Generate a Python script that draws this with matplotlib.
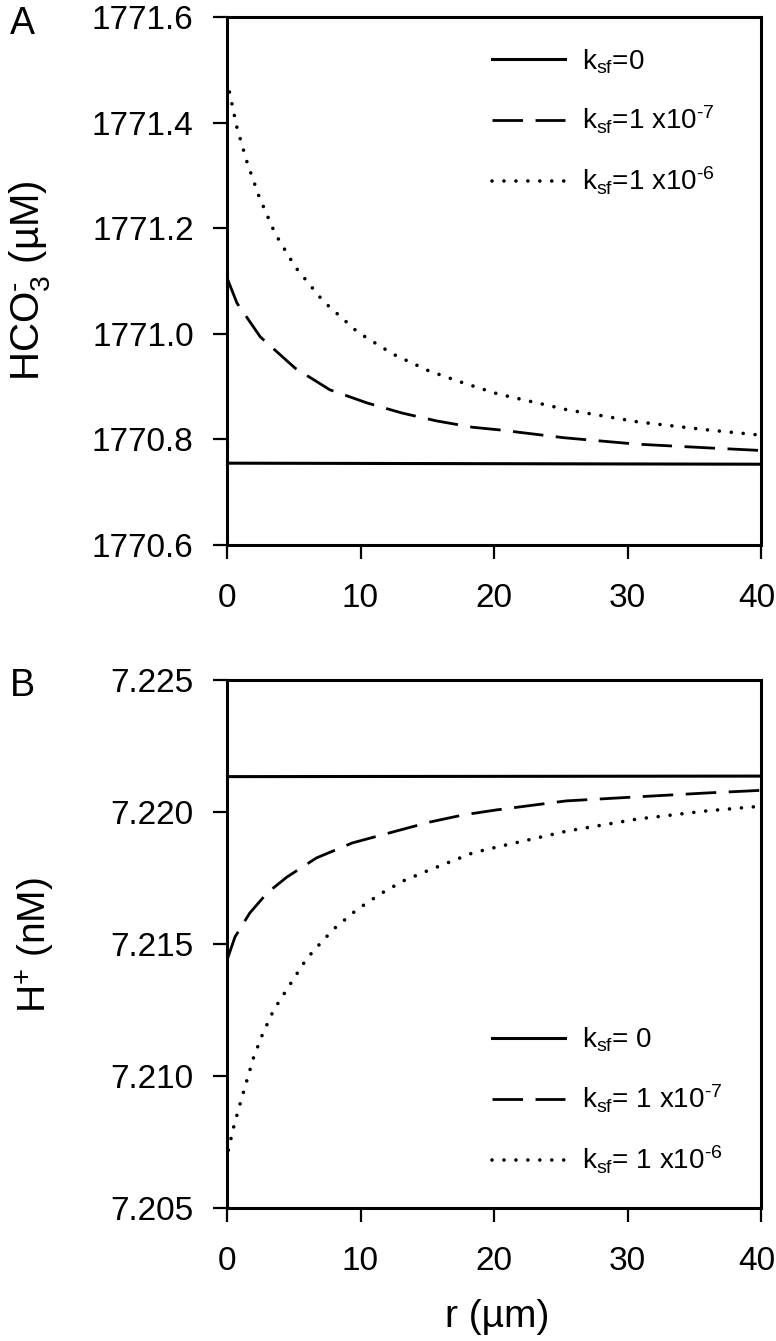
import numpy as np
import matplotlib
matplotlib.use("Agg")
from matplotlib import pyplot as plt
from matplotlib import transforms

plt.rcParams['font.family'] = ['Liberation Sans', 'DejaVu Sans']
plt.rcParams['mathtext.fontset'] = 'custom'
plt.rcParams['mathtext.rm'] = 'Liberation Sans'
plt.rcParams['mathtext.it'] = 'Liberation Sans'

# panel A: HCO3- (uM) vs r (um)
r_a_sf0 = [0, 40]
hco3_sf0 = [1770.755, 1770.753]

r_a_sf7 = [0, 0.75, 2.5, 5.1, 7.7, 10.5, 13.1, 15.7, 18.4, 20.4, 25.3, 30.7, 36.0, 40]
hco3_sf7 = [1771.106, 1771.058, 1770.994, 1770.935, 1770.894, 1770.869, 1770.850,
            1770.835, 1770.823, 1770.818, 1770.803, 1770.791, 1770.784, 1770.779]

r_a_sf6 = [0, 0.75, 1.5, 2.4, 3.6, 5.1, 7.2, 9.8, 12.4, 15.1, 17.7, 20.3, 25.5, 30.8, 36.0, 40]
hco3_sf6 = [1771.48, 1771.39, 1771.325, 1771.26, 1771.19, 1771.127, 1771.062, 1771.003,
            1770.962, 1770.930, 1770.907, 1770.886, 1770.856, 1770.833, 1770.818, 1770.808]

# panel B: H+ (nM) vs r (um)
r_b_sf0 = [0, 40]
h_sf0 = [7.22134, 7.22136]

r_b_sf7 = [0, 0.6, 1.7, 3.0, 4.5, 6.7, 9.4, 12.4, 15.2, 17.7, 20.2, 25.4, 30.6, 35.9, 40]
h_sf7 = [7.21439, 7.21527, 7.21617, 7.21693, 7.21754, 7.21826, 7.21883, 7.21924,
         7.21962, 7.21989, 7.22008, 7.22042, 7.22057, 7.22072, 7.22082]

r_b_sf6 = [0, 0.1, 0.5, 1.0, 1.5, 2.0, 2.7, 3.5, 4.6, 5.7, 6.4, 8.0, 9.7, 11.5, 13.2,
           15.0, 16.7, 18.4, 20.2, 25.5, 30.7, 35.9, 40]
h_sf6 = [7.20674, 7.2072, 7.20807, 7.20898, 7.20985, 7.21072, 7.21163, 7.2125, 7.21337,
         7.21424, 7.2147, 7.21557, 7.21629, 7.2169, 7.21739, 7.21777, 7.21811, 7.21845,
         7.21867, 7.21928, 7.21973, 7.22004, 7.22022]

labels_a = ['k$_{sf}$=0', 'k$_{sf}$=1 x10$^{\u20107}$', 'k$_{sf}$=1 x10$^{\u20106}$']
labels_b = ['k$_{sf}$= 0', 'k$_{sf}$= 1 x10$^{\u20107}$', 'k$_{sf}$= 1 x10$^{\u20106}$']

W, H = 776, 1341
fig = plt.figure(figsize=(W / 100, H / 100), dpi=100)

def px_axes(left, right, top, bottom):
    return fig.add_axes([left / W, 1 - bottom / H, (right - left) / W, (bottom - top) / H])

def style_axes(ax):
    for s in ax.spines.values():
        s.set_linewidth(2.2)
    ax.tick_params(direction='out', length=10, width=1.6, labelsize=24, pad=14,
                   top=False, right=False)
    ax.tick_params(axis='x', pad=17)
    ax.set_xlim(0, 40)
    ax.set_xticks([0, 10, 20, 30, 40])
    # keep the last x label inside the figure edge
    last = ax.get_xticklabels()[-1]
    last.set_transform(last.get_transform() +
                       transforms.ScaledTranslation(-4 / 100, 0, fig.dpi_scale_trans))

def draw_lines(ax, xs, ys, labels):
    ax.plot(xs[0], ys[0], color='black', lw=2.2, label=labels[0])
    ax.plot(xs[1], ys[1], color='black', lw=2.0, dashes=(11, 4.5), label=labels[1])
    ax.plot(xs[2], ys[2], color='black', lw=2.6, dashes=(0.01, 3.3),
            dash_capstyle='round', label=labels[2])

def add_legend(ax, top_px, ax_top):
    ax.legend(loc='upper left', bbox_to_anchor=((492 - 227) / 534, 1 - (top_px - ax_top) / 528),
              frameon=False, fontsize=20, handlelength=2.63, handletextpad=0.6,
              labelspacing=1.02, borderaxespad=0, borderpad=0)

# panel A
ax1 = px_axes(227, 761, 17, 545)
draw_lines(ax1, [r_a_sf0, r_a_sf7, r_a_sf6], [hco3_sf0, hco3_sf7, hco3_sf6], labels_a)
style_axes(ax1)
ax1.set_ylim(1770.6, 1771.6)
ax1.set_yticks(np.arange(1770.6, 1771.61, 0.2))
ax1.set_yticklabels(['%.1f' % v for v in np.arange(1770.6, 1771.61, 0.2)])
add_legend(ax1, 47, 17)

# panel B
ax2 = px_axes(227, 761, 680, 1208)
draw_lines(ax2, [r_b_sf0, r_b_sf7, r_b_sf6], [h_sf0, h_sf7, h_sf6], labels_b)
style_axes(ax2)
ax2.set_ylim(7.205, 7.225)
ax2.set_yticks(np.arange(7.205, 7.2251, 0.005))
ax2.set_yticklabels(['%.3f' % v for v in np.arange(7.205, 7.2251, 0.005)])
add_legend(ax2, 1026, 680)

# axis labels and panel letters
fig.text(30 / W, 1 - 281 / H, 'HCO$_3^{\u2010}$ (\u00b5M)', rotation=90, ha='center', va='center',
         fontsize=29)
fig.text(35 / W, 1 - 945 / H, 'H$^{+}$ (nM)', rotation=90, ha='center', va='center',
         fontsize=28)
fig.text(497 / W, 1 - 1317 / H, 'r (\u00b5m)', ha='center', va='center', fontsize=28)
fig.text(22 / W, 1 - 24 / H, 'A', ha='center', va='center', fontsize=27)
fig.text(22 / W, 1 - 686 / H, 'B', ha='center', va='center', fontsize=27)

fig.savefig('out.png', dpi=100)
